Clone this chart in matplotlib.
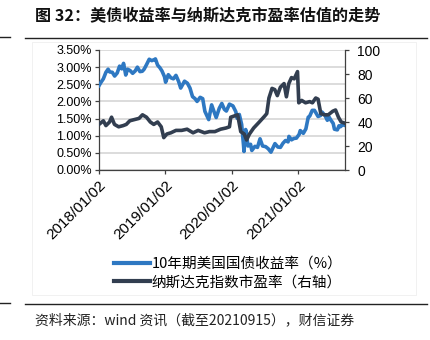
import matplotlib
matplotlib.use("Agg")
import matplotlib.pyplot as plt
import matplotlib.dates as mdates
from matplotlib.ticker import FuncFormatter, MultipleLocator
from matplotlib.lines import Line2D
from matplotlib.patches import Rectangle
import pandas as pd

plt.rcParams["font.family"] = ["Liberation Sans", "Noto Sans CJK SC", "DejaVu Sans"]

# 10-year US treasury yield (%)
yield_dates = [
    "2018-01-02", "2018-01-12", "2018-01-26", "2018-02-09", "2018-02-21", "2018-03-02",
    "2018-03-16", "2018-03-29", "2018-04-12", "2018-04-25", "2018-05-07", "2018-05-17",
    "2018-05-29", "2018-06-08", "2018-06-22", "2018-07-06", "2018-07-20", "2018-08-01",
    "2018-08-15", "2018-08-28", "2018-09-07", "2018-09-20", "2018-10-05", "2018-10-19",
    "2018-11-02", "2018-11-08", "2018-11-20", "2018-12-03", "2018-12-14", "2018-12-28",
    "2019-01-03", "2019-01-18", "2019-02-01", "2019-02-15", "2019-03-01", "2019-03-15",
    "2019-03-27", "2019-04-17", "2019-05-03", "2019-05-17", "2019-05-31", "2019-06-14",
    "2019-06-25", "2019-07-12", "2019-07-26", "2019-08-07", "2019-08-28", "2019-09-13",
    "2019-09-27", "2019-10-08", "2019-10-25", "2019-11-08", "2019-11-22", "2019-12-03",
    "2019-12-20", "2020-01-08", "2020-01-24", "2020-01-31", "2020-02-12", "2020-02-25",
    "2020-03-06", "2020-03-09", "2020-03-18", "2020-03-31", "2020-04-14", "2020-04-21",
    "2020-05-08", "2020-05-22", "2020-06-05", "2020-06-19", "2020-07-06", "2020-07-20",
    "2020-08-04", "2020-08-26", "2020-09-11", "2020-09-25", "2020-10-09", "2020-10-23",
    "2020-11-06", "2020-11-11", "2020-11-25", "2020-12-08", "2020-12-22", "2021-01-06",
    "2021-01-12", "2021-01-29", "2021-02-12", "2021-02-25", "2021-03-05", "2021-03-19",
    "2021-03-31", "2021-04-09", "2021-04-20", "2021-05-04", "2021-05-12", "2021-05-28",
    "2021-06-10", "2021-06-16", "2021-06-30", "2021-07-12", "2021-07-19", "2021-08-04",
    "2021-08-13", "2021-08-20", "2021-09-03", "2021-09-15",
]
yield_values = [
    2.46, 2.55, 2.66, 2.85, 2.94, 2.86,
    2.85, 2.74, 2.83, 3.03, 2.95, 3.11,
    2.77, 2.94, 2.90, 2.82, 2.89, 3.00,
    2.87, 2.88, 2.94, 3.07, 3.23, 3.19,
    3.22, 3.24, 3.06, 2.98, 2.89, 2.72,
    2.56, 2.78, 2.69, 2.66, 2.76, 2.59,
    2.39, 2.59, 2.53, 2.39, 2.14, 2.08,
    2.00, 2.12, 2.08, 1.71, 1.47, 1.90,
    1.69, 1.53, 1.80, 1.94, 1.77, 1.72,
    1.92, 1.87, 1.70, 1.51, 1.62, 1.33,
    0.74, 0.54, 1.18, 0.70, 0.75, 0.57,
    0.69, 0.66, 0.91, 0.70, 0.68, 0.62,
    0.52, 0.77, 0.67, 0.66, 0.78, 0.86,
    0.82, 0.98, 0.88, 0.92, 0.93, 1.04,
    1.15, 1.07, 1.20, 1.54, 1.57, 1.74,
    1.74, 1.66, 1.56, 1.59, 1.69, 1.59,
    1.45, 1.57, 1.45, 1.36, 1.19, 1.17,
    1.29, 1.26, 1.32, 1.30,
]

# Nasdaq index P/E (right axis)
pe_dates = [
    "2018-01-02", "2018-01-26", "2018-02-09", "2018-03-01", "2018-03-12", "2018-03-28",
    "2018-04-20", "2018-05-15", "2018-06-01", "2018-06-20", "2018-07-15", "2018-08-10",
    "2018-08-29", "2018-09-20", "2018-10-11", "2018-10-30", "2018-11-20", "2018-12-10",
    "2018-12-24", "2019-01-10", "2019-02-01", "2019-03-01", "2019-04-01", "2019-05-01",
    "2019-06-03", "2019-07-01", "2019-08-05", "2019-09-01", "2019-10-01", "2019-11-01",
    "2019-12-01", "2019-12-20", "2019-12-27", "2020-01-15", "2020-02-03", "2020-02-20",
    "2020-03-10", "2020-03-23", "2020-04-08", "2020-05-01", "2020-06-01", "2020-07-01",
    "2020-07-12", "2020-07-24", "2020-08-10", "2020-08-25", "2020-09-08", "2020-09-25",
    "2020-10-15", "2020-10-28", "2020-11-10", "2020-11-25", "2020-12-10", "2020-12-28",
    "2021-01-04", "2021-01-20", "2021-02-10", "2021-03-05", "2021-03-20", "2021-04-07",
    "2021-04-20", "2021-05-05", "2021-05-25", "2021-06-15", "2021-07-10", "2021-07-25",
    "2021-08-10", "2021-08-25", "2021-09-15",
]
pe_values = [
    38, 41, 37, 40, 44, 38,
    36, 37, 38, 41, 42, 43,
    46, 44, 40, 38, 40, 36,
    27, 30, 31, 33, 33, 34,
    31, 33, 31, 32, 32, 34,
    35, 36, 44, 45, 46, 32,
    30, 25, 30, 35, 40, 45,
    47, 60, 68, 67, 62, 69,
    72, 61, 72, 77, 76, 82,
    56, 58, 56, 57, 56, 60,
    59, 47, 46, 46, 49, 50,
    44, 40, 39,
]

yield_label = "10年期美国国债收益率（%）"
pe_label = "纳斯达克指数市盈率（右轴）"
tick_dates = ["2018-01-02", "2019-01-02", "2020-01-02", "2021-01-02"]

blue = "#2E78C2"
navy = "#323E50"
cjk = ["Noto Sans CJK SC", "DejaVu Sans"]

fig = plt.figure(figsize=(4.31, 3.40), dpi=100)

# faint chart frame
fig.add_artist(Rectangle((32 / 431, 1 - 295 / 340), (416 - 32) / 431, (295 - 42) / 340,
                         transform=fig.transFigure, fill=False, edgecolor="#EFEFEF", lw=0.6))

ax = fig.add_axes([99 / 431, 1 - 170 / 340, (345 - 99) / 431, 120 / 340])
ax2 = ax.twinx()

yd = pd.to_datetime(yield_dates)
pd_ = pd.to_datetime(pe_dates)
ax.plot(yd, yield_values, color=blue, lw=2.6, solid_joinstyle="round", zorder=3)
ax2.plot(pd_, pe_values, color=navy, lw=2.6, solid_joinstyle="round", zorder=3)

ax.set_ylim(0, 3.5)
ax.yaxis.set_major_locator(MultipleLocator(0.5))
ax.yaxis.set_major_formatter(FuncFormatter(lambda v, p: f"{v:.2f}%"))
ax2.set_ylim(0, 100)
ax2.yaxis.set_major_locator(MultipleLocator(20))
ax.set_xlim(pd.Timestamp("2018-01-02"), pd.Timestamp("2021-09-15"))
ax.set_xticks(pd.to_datetime(tick_dates))
ax.xaxis.set_major_formatter(mdates.DateFormatter("%Y/%m/%d"))

ax.grid(axis="y", color="#D9D9D9", lw=1.3)
ax.set_axisbelow(True)
for a in (ax, ax2):
    a.spines["top"].set_visible(False)
    for s in ("left", "right", "bottom"):
        a.spines[s].set_color("#404040")
        a.spines[s].set_linewidth(0.9)
ax.spines["right"].set_visible(False)
ax2.spines["left"].set_visible(False)
ax2.spines["bottom"].set_visible(False)

ax.tick_params(axis="y", length=3, width=0.9, color="#404040", labelsize=9, pad=2)
ax.tick_params(axis="x", length=3, width=0.9, color="#404040", labelsize=11, pad=3)
ax2.tick_params(axis="y", length=3, width=0.9, color="#404040", labelsize=10, pad=6)
for lab in ax.get_xticklabels():
    lab.set_rotation(45)
    lab.set_ha("right")
    lab.set_rotation_mode("anchor")

handles = [Line2D([], [], color=blue, lw=3), Line2D([], [], color=navy, lw=3)]
fig.legend(handles, [yield_label, pe_label], loc="center", bbox_to_anchor=(228 / 431, 1 - 273 / 340),
           frameon=False, prop={"family": cjk, "size": 10.5}, handlelength=2.5, handletextpad=0.1,
           labelspacing=0.3, borderpad=0)

# title and source
fig.text(35 / 431, 1 - 16 / 340, "图 32：美债收益率与纳斯达克市盈率估值的走势", family=cjk,
         fontsize=11.6, fontweight="bold", va="center", ha="left", color="#111111")
fig.add_artist(Line2D([25 / 431, 427 / 431], [1 - 37.5 / 340] * 2, color="#222222", lw=1.0))
fig.add_artist(Line2D([0, 10 / 431], [1 - 36.5 / 340] * 2, color="#222222", lw=1.0))
fig.add_artist(Line2D([25 / 431, 427 / 431], [1 - 304 / 340] * 2, color="#222222", lw=1.0))
fig.add_artist(Line2D([0, 10 / 431], [1 - 303 / 340] * 2, color="#222222", lw=1.0))
fig.text(35 / 431, 1 - 320 / 340, "资料来源：wind 资讯（截至20210915），财信证券", family=cjk,
         fontsize=10, style="italic", va="center", ha="left", color="#222222")

fig.savefig("out.png", dpi=100)
